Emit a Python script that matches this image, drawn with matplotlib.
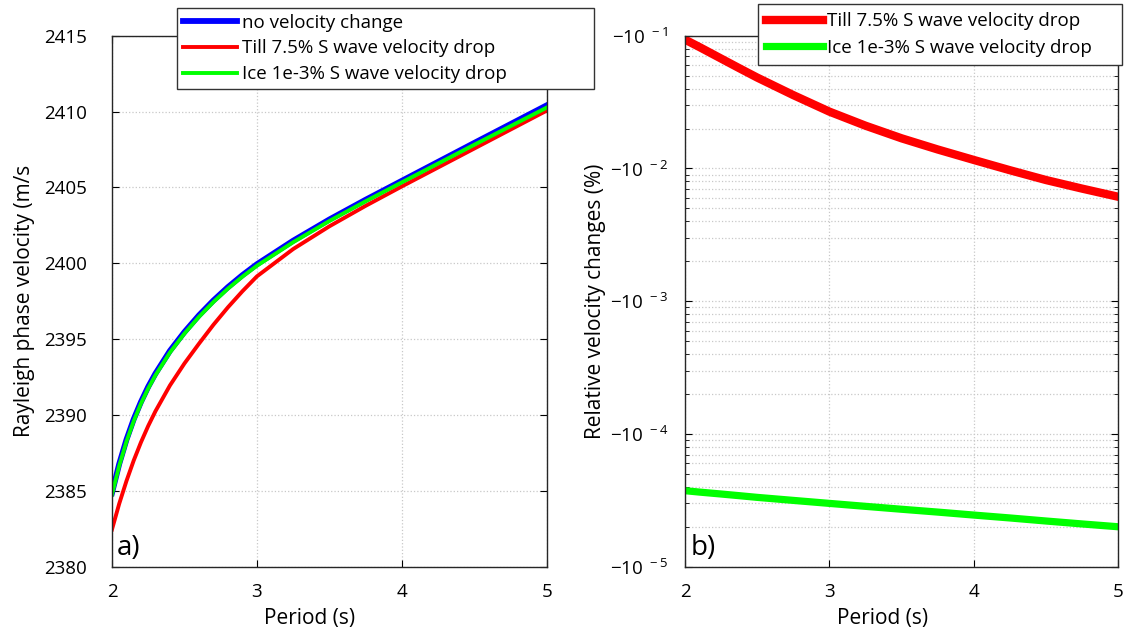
import matplotlib
matplotlib.use('Agg')
import matplotlib.pyplot as plt
import numpy as np
from matplotlib.ticker import FixedLocator, FixedFormatter, LogLocator, NullFormatter

plt.rcParams['font.family'] = ['Open Sans', 'DejaVu Sans']
plt.rcParams['mathtext.default'] = 'regular'

# panel a) phase velocity (m/s)
period = [2.0, 2.05, 2.1, 2.15, 2.2, 2.25, 2.3, 2.4, 2.5, 2.6, 2.7, 2.8, 2.9, 3.0,
          3.25, 3.5, 3.75, 4.0, 4.5, 5.0]
v_none = [2384.85, 2386.77, 2388.37, 2389.72, 2390.86, 2391.86, 2392.73, 2394.23, 2395.47,
          2396.57, 2397.55, 2398.43, 2399.22, 2399.94, 2401.49, 2402.89, 2404.19, 2405.44,
          2407.94, 2410.42]
v_till = [2382.45, 2384.15, 2385.65, 2387.0, 2388.2, 2389.28, 2390.25, 2391.95, 2393.4,
          2394.7, 2395.95, 2397.1, 2398.16, 2399.14, 2400.94, 2402.44, 2403.79, 2405.07,
          2407.57, 2410.07]
v_ice = [2384.75, 2386.65, 2388.25, 2389.6, 2390.75, 2391.75, 2392.62, 2394.12, 2395.37,
         2396.47, 2397.45, 2398.33, 2399.12, 2399.84, 2401.39, 2402.79, 2404.09, 2405.34,
         2407.82, 2410.27]

# panel b) relative velocity change magnitude (%), shown on a negative log axis
period_b = [2.0, 2.1, 2.25, 2.375, 2.5, 2.75, 3.0, 3.25, 3.5, 3.75, 4.0, 4.25, 4.5, 4.75, 5.0]
dv_till = [0.0935, 0.0822, 0.0673, 0.0570, 0.0484, 0.0357, 0.0268, 0.0210, 0.01687, 0.0139,
           0.01159, 0.0097, 0.00818, 0.00705, 0.00612]
dv_ice = [3.74e-5, 3.65e-5, 3.53e-5, 3.43e-5, 3.33e-5, 3.16e-5, 3.0e-5, 2.85e-5, 2.71e-5,
          2.58e-5, 2.45e-5, 2.33e-5, 2.21e-5, 2.10e-5, 2.0e-5]

labels = ['no velocity change', 'Till 7.5% S wave velocity drop', 'Ice 1e-3% S wave velocity drop']
blue, red, green = '#0000ff', '#ff0000', '#00ff00'
grid_color = '#c8c8c8'

fig = plt.figure(figsize=(11.24, 6.39), dpi=100)
ax1 = fig.add_axes([0.0996, 0.1131, 0.387, 0.831])
ax2 = fig.add_axes([0.6094, 0.1131, 0.3855, 0.831])

leg_kw = dict(loc='upper left', mode='expand', bbox_transform=fig.transFigure, fontsize=13.5,
              frameon=True, fancybox=False, edgecolor='#333333', framealpha=1,
              handletextpad=0.25, borderaxespad=0)

# --- panel a ---
l1, = ax1.plot(period, v_none, color=blue, lw=4.2)
l2, = ax1.plot(period, v_till, color=red, lw=2.8)
l3, = ax1.plot(period, v_ice, color=green, lw=2.8)
ax1.set_xlim(2, 5)
ax1.set_ylim(2380, 2415)
ax1.set_xticks([2, 3, 4, 5])
ax1.set_yticks(np.arange(2380, 2416, 5))
ax1.set_xlabel('Period (s)', fontsize=15)
ax1.set_ylabel('Rayleigh phase velocity (m/s', fontsize=15)
ax1.xaxis.set_label_coords(0.455, -0.078)
ax1.yaxis.set_label_coords(-0.178, 0.5)
ax1.text(0.012, 0.008, 'a)', transform=ax1.transAxes, fontsize=20, ha='left', va='bottom')
fig.legend([l1, l2, l3], labels, bbox_to_anchor=(0.1575, 0.5, 0.371, 0.4875),
           handlelength=2.9, borderpad=0.3, labelspacing=0.42, **leg_kw)

# --- panel b ---
m2, = ax2.plot(period_b, dv_till, color=red, lw=6)
m3, = ax2.plot(period_b, dv_ice, color=green, lw=5.2)
ax2.set_yscale('log')
ax2.set_xlim(2, 5)
ax2.set_ylim(1e-5, 1e-1)
ax2.set_xticks([2, 3, 4, 5])
decades = [1e-5, 1e-4, 1e-3, 1e-2, 1e-1]
ax2.yaxis.set_major_locator(FixedLocator(decades))
ax2.yaxis.set_major_formatter(FixedFormatter(['$-10^{\\ -5}$', '$-10^{\\ -4}$', '$-10^{\\ -3}$',
                                              '$-10^{\\ -2}$', '$-10^{\\ -1}$']))
ax2.yaxis.set_minor_locator(LogLocator(base=10, subs=np.arange(2, 10)))
ax2.yaxis.set_minor_formatter(NullFormatter())
ax2.set_xlabel('Period (s)', fontsize=15)
ax2.set_ylabel('Relative velocity changes (%)', fontsize=15)
ax2.xaxis.set_label_coords(0.455, -0.078)
ax2.yaxis.set_label_coords(-0.182, 0.5)
ax2.text(0.012, 0.008, 'b)', transform=ax2.transAxes, fontsize=20, ha='left', va='bottom')
fig.legend([m2, m3], labels[1:], bbox_to_anchor=(0.6744, 0.5, 0.3238, 0.494),
           handlelength=3.0, borderpad=0.45, labelspacing=0.45, **leg_kw)

for ax in (ax1, ax2):
    ax.grid(True, which='major', color=grid_color, linestyle=':', linewidth=0.9)
    ax.tick_params(which='both', direction='in', top=True, right=True, labelsize=13.5)
    ax.tick_params(which='major', length=5)
    ax.tick_params(which='minor', length=3)
    ax.tick_params(axis='x', pad=12)
    for s in ax.spines.values():
        s.set_color('#262626')
        s.set_linewidth(1.0)
    ax.set_axisbelow(True)
ax2.grid(True, which='minor', color=grid_color, linestyle=':', linewidth=0.9)
ax1.tick_params(axis='y', pad=18)
ax2.tick_params(axis='y', pad=12)

fig.savefig('out.png', dpi=100)
